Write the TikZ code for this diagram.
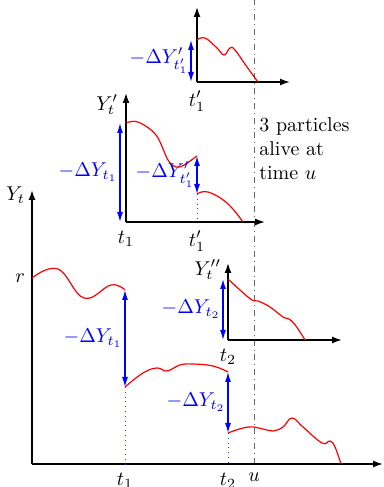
\documentclass[tikz,border=0pt]{standalone}
\usepackage{amsmath}
\usetikzlibrary{arrows.meta}

\begin{document}
\begin{tikzpicture}[x=0.5pt, y=0.5pt,
  axis/.style={thick, -{Latex[length=5pt,width=3.5pt]}},
  traj/.style={red, semithick},
  jump/.style={blue, semithick, {Latex[length=5pt,width=3pt]}-{Latex[length=5pt,width=3pt]}},
  drop/.style={blue!80, dotted},
  jlabel/.style={left, blue, inner sep=1pt},
  tlabel/.style={below, yshift=-1pt}]

  \useasboundingbox (0,0) rectangle (384,487);

  % 时间点 t1, t2 与时刻 u
  \pgfmathsetmacro{\ta}{125}
  \pgfmathsetmacro{\tb}{228}
  \pgfmathsetmacro{\tu}{254}

  % 时刻 u 的点划线
  \draw[black!60, dashdotted] (\tu,23) -- (\tu,487);

  % ---- 主图：Y_t ----
  \draw[axis] (32,23) -- (383,23);
  \draw[axis] (32,23) -- (32,297);
  \node[left] (Yt) at (32,292) {$Y_t$};
  \node[left] (r) at (32,209) {$r$};
  \node[tlabel] (ta) at (\ta,23) {$t_1$};
  \node[tlabel] (tb) at (\tb,23) {$t_2$};
  \node[tlabel] (tu) at (\tu,23) {$u$};

  % 轨迹（三段）
  \draw[traj] plot[smooth, tension=0.7] coordinates
    {(32,209) (58,218) (84,189) (111,202) (\ta,197)};
  \draw[traj] plot[smooth, tension=0.7] coordinates
    {(\ta,100) (143,114) (157,119) (167,116) (180,122) (193,123) (213,121) (\tb,115)};
  \draw[traj] plot[smooth, tension=0.7] coordinates
    {(\tb,54) (248,60) (263,58) (273,56) (283,60) (292,69) (303,60) (322,44)
     (330,46) (335,40) (341,23)};

  % 跳跃
  \draw[jump] (\ta,197) -- node[jlabel] (dYa) {$-\Delta Y_{t_1}$} (\ta,100);
  \draw[jump] (\tb,115) -- node[jlabel] (dYb) {$-\Delta Y_{t_2}$} (\tb,54);
  \draw[drop] (\ta,100) -- (\ta,23);
  \draw[drop] (\tb,54) -- (\tb,23);

  % ---- 子图：Y'_t（从 t1 出发）----
  \draw[axis] (126,265) -- (265,265);
  \draw[axis] (126,265) -- (126,394);
  \node[left] (Ypt) at (125,382) {$Y'_t$};
  \node[tlabel] (pa) at (126,265) {$t_1$};
  \node[tlabel] (pb) at (197,265) {$t'_1$};
  \draw[traj] plot[smooth, tension=0.6] coordinates
    {(126,364) (138,365) (156,352) (168,327) (176,320) (184,322) (197,331)};
  \draw[traj] plot[smooth, tension=0.7] coordinates
    {(197,293) (208,295) (227,284) (243,265)};
  \draw[jump] (120,364) -- node[jlabel] (dYpa) {$-\Delta Y_{t_1}$} (120,265);
  \draw[jump] (197,331) -- node[jlabel] (dYpb) {$-\Delta Y'_{t'_1}$} (197,293);
  \draw[drop] (197,293) -- (197,265);

  % ---- 子图：从 t'1 出发 ----
  \draw[axis] (197,405) -- (290,405);
  \draw[axis] (197,405) -- (197,480);
  \node[tlabel] (qa) at (197,405) {$t'_1$};
  \draw[traj] plot[smooth, tension=0.7] coordinates
    {(197,447) (205,449) (217,439) (224,432) (230,439) (235,437) (247,420) (258,405)};
  \draw[jump] (191,447) -- node[jlabel] (dYq) {$-\Delta Y'_{t'_1}$} (191,405);

  % ---- 子图：Y''_t（从 t2 出发）----
  \draw[axis] (228,147) -- (342,147);
  \draw[axis] (228,147) -- (228,224);
  \node[left] (Ypp) at (228,217) {$Y''_t$};
  \node[tlabel] (sa) at (228,147) {$t_2$};
  \draw[traj] plot[smooth, tension=0.7] coordinates
    {(228,208) (240,197) (252,187) (258,186) (270,180) (283,170) (289,168) (296,161) (305,147)};
  \draw[jump] (223,208) -- node[jlabel] (dYs) {$-\Delta Y_{t_2}$} (223,147);

  % 说明文字
  \node[anchor=north west, align=left, inner sep=0pt] (alive) at (259,370)
    {3 particles\\alive at\\time $u$};

\end{tikzpicture}
\end{document}
